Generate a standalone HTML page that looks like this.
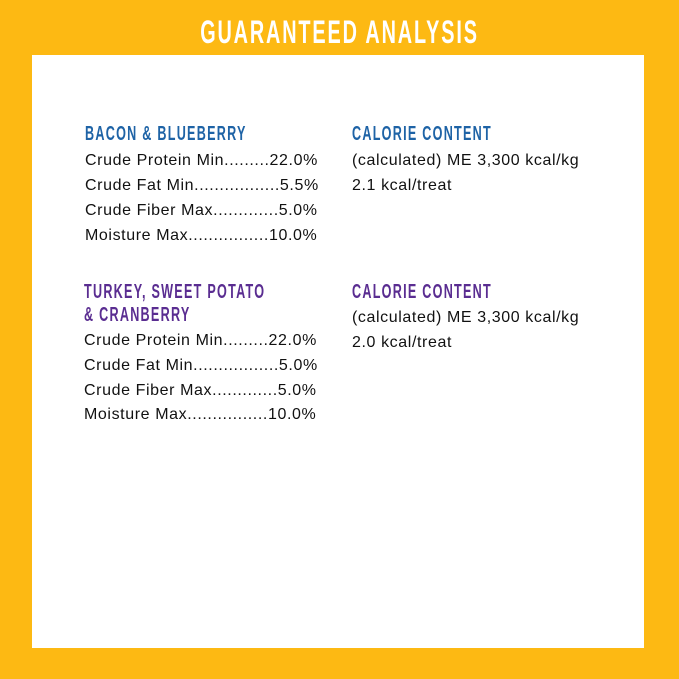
<!DOCTYPE html>
<html><head><style>
body{margin:0;width:679px;height:679px;background:#FDB913;position:relative;overflow:hidden;font-family:"Liberation Sans",sans-serif}
.box{position:absolute;left:32px;top:55px;width:612px;height:593px;background:#fff}
.t{position:absolute;white-space:nowrap}
.title{left:0;width:679px;top:14px;text-align:center;color:#fff;font-weight:bold;font-size:32px;letter-spacing:3px;transform:scaleX(.62);}
.h{font-weight:bold;font-size:20px;letter-spacing:2px;transform:scaleX(.63);transform-origin:0 0}
.b{color:#1e63a6}.p{color:#5a2d91}
.l{font-size:16px;letter-spacing:0.6px;color:#111}
</style></head><body>
<div class="box"></div>
<div class="t title">GUARANTEED ANALYSIS</div>
<div class="t h b" style="left:85px;top:123px">BACON &amp; BLUEBERRY</div>
<div class="t l" style="left:85px;top:152px">Crude Protein Min.........22.0%</div>
<div class="t l" style="left:85px;top:177px">Crude Fat Min.................5.5%</div>
<div class="t l" style="left:85px;top:202px">Crude Fiber Max.............5.0%</div>
<div class="t l" style="left:85px;top:227px">Moisture Max................10.0%</div>
<div class="t h b" style="left:352px;top:123px">CALORIE CONTENT</div>
<div class="t l" style="left:352px;top:152px">(calculated) ME 3,300 kcal/kg</div>
<div class="t l" style="left:352px;top:177px">2.1 kcal/treat</div>
<div class="t h p" style="left:84px;top:281px">TURKEY, SWEET POTATO</div>
<div class="t h p" style="left:84px;top:304px">&amp; CRANBERRY</div>
<div class="t l" style="left:84px;top:332px">Crude Protein Min.........22.0%</div>
<div class="t l" style="left:84px;top:357px">Crude Fat Min.................5.0%</div>
<div class="t l" style="left:84px;top:382px">Crude Fiber Max.............5.0%</div>
<div class="t l" style="left:84px;top:406px">Moisture Max................10.0%</div>
<div class="t h p" style="left:352px;top:281px">CALORIE CONTENT</div>
<div class="t l" style="left:352px;top:309px">(calculated) ME 3,300 kcal/kg</div>
<div class="t l" style="left:352px;top:334px">2.0 kcal/treat</div>
</body></html>
